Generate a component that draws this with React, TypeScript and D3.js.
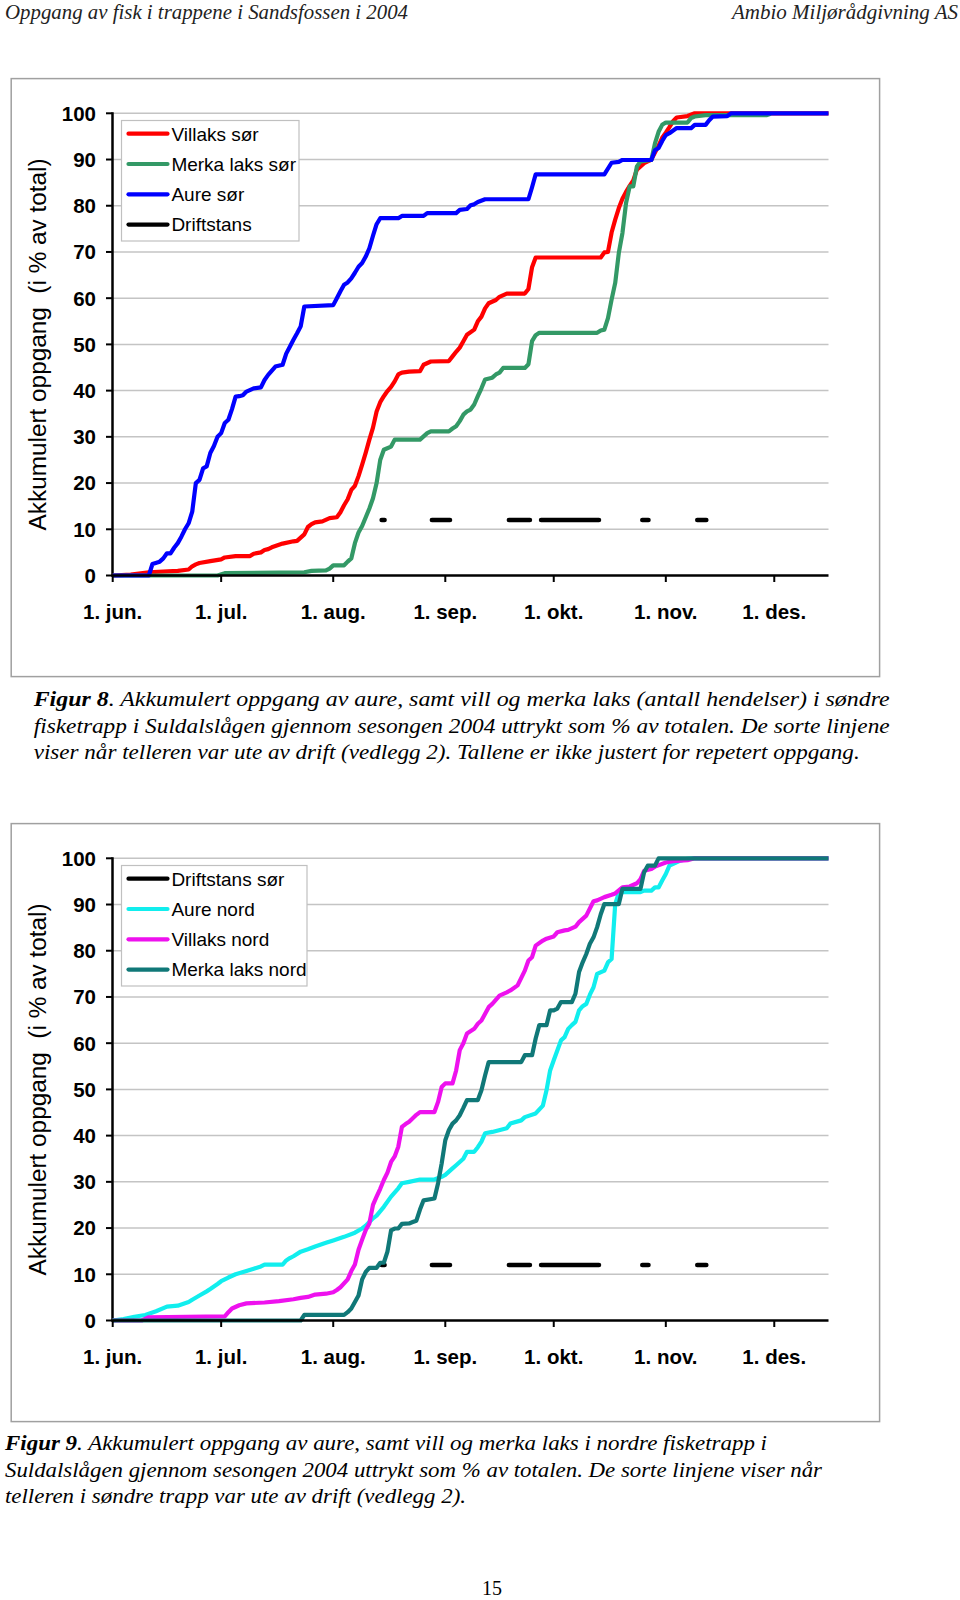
import React from 'react';
import * as d3 from 'd3';

// ---------- data (day index from 1. jun. 2004, cumulative % of total) ----------
type Pt = [number, number];

const START = Date.UTC(2004, 5, 1);
const END_DAY = 198;
const xTickLabels = ['1. jun.', '1. jul.', '1. aug.', '1. sep.', '1. okt.', '1. nov.', '1. des.'];
const yTicks = [0, 10, 20, 30, 40, 50, 60, 70, 80, 90, 100];

const villaksSor: Pt[] = [
  [0, 0], [5, 0.2], [10, 0.7], [18, 1], [21, 1.3], [22, 2], [23, 2.4], [24, 2.7], [27, 3.1], [30, 3.5],
  [31, 3.9], [34, 4.2], [38, 4.2], [39, 4.7], [41, 5], [42, 5.5], [43, 5.7], [44, 6.1], [47, 6.9], [50, 7.4],
  [51, 7.5], [52, 8.2], [53, 8.9], [54, 10.5], [55, 11.1], [56, 11.5], [58, 11.7], [60, 12.4], [62, 12.6],
  [63, 13.7], [64, 15.2], [65, 16.5], [66, 18.5], [67, 19.4], [68, 21.5], [69, 24], [70, 26.6], [71, 29.4],
  [72, 32], [73, 35.5], [74, 37.5], [75, 38.8], [76, 39.9], [77, 40.8], [78, 42], [79, 43.5], [80, 43.9],
  [82, 44.1], [85, 44.2], [86, 45.6], [88, 46.3], [93, 46.4], [94, 47.4], [95, 48.4], [96, 49.3], [97, 50.7],
  [98, 52.1], [100, 53.2], [101, 55], [102, 56], [103, 57.8], [104, 58.9], [106, 59.6], [107, 60.3], [109, 61],
  [114, 61], [115, 62], [116, 66.7], [117, 68.8], [135, 68.8], [136, 69.9], [137, 70], [138, 74.2], [139, 77],
  [140, 79.5], [141, 81.5], [142, 83], [143, 84.3], [144, 85.5], [145, 87.8], [146, 88.5], [147, 89.2],
  [148, 89.6], [149, 90], [150, 91.5], [151, 93], [152, 94.7], [153, 95.8], [154, 97], [155, 98.3], [156, 99.1],
  [159, 99.4], [161, 100], [198, 100],
];

const merkaLaksSor: Pt[] = [
  [0, 0], [29, 0], [31, 0.5], [53, 0.7], [55, 1], [59, 1.1], [60, 1.5], [61, 2.2], [64, 2.2], [65, 3],
  [66, 3.7], [67, 7], [68, 9.3], [69, 10.7], [70, 12.6], [71, 14.5], [72, 16.7], [73, 20], [74, 25], [75, 27.2],
  [77, 27.9], [78, 29.4], [85, 29.4], [86, 30.1], [87, 30.8], [88, 31.2], [93, 31.2], [94, 31.8], [95, 32.3],
  [96, 33.4], [97, 34.8], [98, 35.5], [99, 35.9], [100, 37], [101, 38.8], [102, 40.5], [103, 42.4], [105, 42.8],
  [106, 43.5], [107, 43.9], [108, 44.9], [114, 44.9], [115, 45.7], [116, 50.7], [117, 52], [118, 52.5],
  [134, 52.5], [135, 53], [136, 53.2], [137, 55.7], [138, 59.7], [139, 63.3], [140, 69.8], [141, 74.1],
  [142, 80.6], [143, 84.2], [144, 84.2], [145, 88.5], [146, 89.6], [149, 89.9], [150, 93.5], [151, 96],
  [152, 97.5], [153, 98], [159, 98], [160, 99], [161, 99.3], [164, 99.6], [181, 99.6], [182, 99.9],
];

const aureSor: Pt[] = [
  [0, 0], [10, 0], [11, 2.5], [13, 3], [14, 3.7], [15, 4.8], [16, 4.8], [17, 6], [18, 7], [19, 8.4], [20, 10],
  [21, 11.3], [22, 13.8], [23, 20], [24, 20.7], [25, 23.2], [26, 23.6], [27, 26.5], [28, 28], [29, 30],
  [30, 30.8], [31, 33], [32, 33.7], [33, 36], [34, 38.7], [35, 38.8], [36, 39], [37, 39.8], [39, 40.5],
  [41, 40.7], [42, 42.3], [43, 43.4], [45, 45.2], [47, 45.6], [48, 48], [49, 49.5], [50, 51], [51, 52.4],
  [52, 53.9], [53, 58.2], [61, 58.5], [62, 60], [63, 61.5], [64, 62.9], [65, 63.4], [66, 64.3], [67, 65.5],
  [68, 66.8], [69, 67.6], [70, 69], [71, 70.8], [72, 73.5], [73, 76], [74, 77.3], [79, 77.3], [80, 77.8],
  [86, 77.8], [87, 78.4], [95, 78.4], [96, 79.1], [98, 79.3], [99, 80.1], [100, 80.3], [101, 80.8], [103, 81.4],
  [115, 81.4], [116, 84], [117, 86.8], [136, 86.8], [138, 89.3], [140, 89.5], [141, 89.9], [149, 89.9],
  [150, 92], [151, 92.5], [152, 94], [153, 95.3], [154, 95.7], [156, 96.8], [160, 96.8], [161, 97.5],
  [164, 97.5], [165, 98.5], [166, 99.3], [170, 99.4], [171, 100], [198, 100],
];

const aureNord: Pt[] = [
  [0, 0], [3, 0.3], [6, 0.8], [9, 1.2], [12, 2], [15, 3], [18, 3.2], [21, 4], [22, 4.5], [24, 5.4], [26, 6.3],
  [27, 6.8], [29, 7.9], [30, 8.5], [32, 9.3], [34, 10], [37, 10.7], [39, 11.2], [41, 11.7], [42, 12.1],
  [47, 12.1], [48, 13], [49, 13.5], [50, 13.9], [52, 14.9], [54, 15.4], [56, 16], [59, 16.8], [61, 17.3],
  [64, 18.1], [67, 19], [69, 19.9], [70, 20.5], [71, 21.3], [72, 22.1], [73, 22.7], [75, 24.6], [77, 26.8],
  [79, 28.6], [80, 29.7], [82, 30], [85, 30.5], [89, 30.5], [91, 31.1], [92, 31.5], [93, 32.2], [94, 32.9],
  [95, 33.6], [96, 34.3], [97, 35], [98, 36.5], [100, 36.5], [101, 37.5], [102, 38.7], [103, 40.5], [105, 40.8],
  [109, 41.6], [110, 42.6], [113, 43.3], [114, 44], [117, 44.8], [119, 46.5], [120, 49.8], [121, 54.1],
  [122, 56.3], [124, 60.6], [125, 61.3], [126, 63.1], [127, 63.9], [128, 64.6], [129, 67.1], [130, 68],
  [131, 68.5], [132, 70.5], [133, 72.1], [134, 75], [136, 75.7], [137, 77.5], [138, 78.2], [139, 90.1],
  [140, 92.5], [141, 92.7], [146, 92.7], [147, 93], [149, 93], [150, 93.7], [151, 93.7], [152, 95.2],
  [153, 96.6], [154, 98.4], [157, 99.5], [159, 99.9], [161, 100], [198, 100],
];

const villaksNord: Pt[] = [
  [0, 0], [8, 0], [10, 0.7], [31, 0.9], [32, 1.8], [33, 2.6], [35, 3.3], [37, 3.7], [42, 3.9], [46, 4.2],
  [50, 4.6], [52, 4.9], [54, 5.1], [56, 5.6], [59, 5.8], [61, 6.1], [62, 6.6], [63, 7.2], [65, 8.9], [66, 10.7],
  [67, 12.1], [68, 15.3], [69, 17.5], [70, 19.6], [71, 21], [72, 25], [73, 26.8], [74, 28.5], [75, 30.4],
  [76, 32], [77, 34.3], [78, 35.5], [79, 37.6], [80, 41.9], [81, 42.5], [82, 43], [84, 44.5], [85, 45.1],
  [89, 45.1], [90, 47.3], [91, 50.5], [92, 51.3], [94, 51.3], [95, 54.1], [96, 58.5], [97, 60], [98, 62.1],
  [100, 63.1], [101, 64.2], [102, 64.9], [104, 67.8], [105, 68.5], [107, 70.3], [109, 71], [110, 71.4],
  [112, 72.5], [114, 75.7], [115, 77.9], [116, 78.6], [117, 81.1], [119, 82.2], [120, 82.6], [122, 83.1],
  [123, 84], [125, 84.4], [126, 84.5], [128, 85.2], [129, 86.2], [131, 87.6], [133, 90.7], [134, 90.9],
  [136, 91.6], [138, 92.1], [139, 92.4], [141, 93.7], [143, 93.9], [145, 94.6], [146, 95.5], [147, 97.3],
  [149, 97.7], [150, 98.2], [153, 99.1], [155, 99.4], [159, 99.6], [161, 100], [198, 100],
];

const merkaLaksNord: Pt[] = [
  [0, 0], [52, 0], [53, 1.2], [64, 1.2], [65, 1.8], [66, 2.6], [67, 4], [68, 5.4], [69, 8.9], [70, 10.5],
  [71, 11.4], [73, 11.4], [74, 12.5], [75, 12.5], [76, 14.9], [77, 19.5], [78, 19.9], [79, 19.9], [80, 20.9],
  [82, 21], [83, 21.3], [84, 21.6], [85, 24], [86, 26], [89, 26.4], [90, 29.7], [91, 34], [92, 39], [93, 41.2],
  [94, 42.6], [95, 43.3], [96, 44.4], [97, 46], [98, 47.7], [101, 47.7], [102, 49.8], [103, 53], [104, 55.9],
  [113, 55.9], [114, 57.4], [116, 57.4], [117, 61], [118, 63.9], [120, 63.9], [121, 67.1], [122, 67.1],
  [123, 67.5], [124, 68.9], [127, 68.9], [128, 70.7], [129, 75.4], [130, 77.5], [131, 79.3], [132, 81.5],
  [133, 82.9], [134, 85.1], [135, 87.9], [136, 90.1], [140, 90.1], [141, 93.4], [146, 93.4], [147, 97],
  [148, 98.4], [150, 98.4], [151, 100], [198, 100],
];

// periods when the counter in the southern ladder was out of order (start day, end day)
const driftstans: [number, number][] = [
  [74.4, 75.2], [88.3, 93.3], [109.6, 115.4], [118.5, 134.5], [146.5, 148.2], [161.7, 164.2],
];
const DRIFT_LEVEL = 12;

// ---------- helpers ----------
const toDate = (d: number) => new Date(START + d * 864e5);

const x = d3.scaleUtc().domain([toDate(0), toDate(END_DAY)]).range([112.7, 828.5]);
const monthTicks = d3.utcMonth.range(toDate(0), toDate(END_DAY));

const PLOT_TOP = 113.3;
const PLOT_BOTTOM = 575.5;
const AXIS_X = 112.5;
const y = d3.scaleLinear().domain([0, 100]).range([PLOT_BOTTOM, PLOT_TOP]);

const line = d3
  .line<Pt>()
  .x((p) => x(toDate(p[0])))
  .y((p) => y(p[1]))
  .curve(d3.curveLinear);

type Series = { name: string; color: string; data: Pt[] | null };

const SANS = 'Liberation Sans, Arial, sans-serif';
const SERIF = 'Liberation Serif, Times New Roman, serif';

function Chart({ offsetY, series, legendWidth }: { offsetY: number; series: Series[]; legendWidth: number }) {
  const ext = x.range();
  return (
    <g transform={`translate(0,${offsetY})`}>
      <rect x={11.2} y={78.6} width={868.4} height={598} fill="#fff" stroke="#a0a0a0" strokeWidth={1.5} />
      {/* grid */}
      {yTicks.filter((t) => t > 0).map((t) => (
        <line key={t} x1={AXIS_X} x2={ext[1]} y1={y(t)} y2={y(t)} stroke="#c4c4c4" strokeWidth={1.5} />
      ))}
      {/* y axis */}
      <line x1={AXIS_X} x2={AXIS_X} y1={PLOT_TOP - 1} y2={PLOT_BOTTOM + 1} stroke="#000" strokeWidth={2.5} />
      {yTicks.map((t) => (
        <g key={t}>
          <line x1={AXIS_X - 6.5} x2={AXIS_X} y1={y(t)} y2={y(t)} stroke="#000" strokeWidth={2} />
          <text x={96} y={y(t)} dy="0.36em" textAnchor="end" fontFamily={SANS} fontWeight="bold" fontSize={20.5} fill="#000">
            {t}
          </text>
        </g>
      ))}
      <text
        transform={`translate(46,${(PLOT_TOP + PLOT_BOTTOM) / 2}) rotate(-90)`}
        textAnchor="middle"
        fontFamily={SANS}
        fontSize={23.5}
        fill="#000"
        textLength={372}
        lengthAdjust="spacingAndGlyphs"
        style={{ whiteSpace: 'pre' }}
      >
        {'Akkumulert oppgang  (i % av total)'}
      </text>
      {/* series */}
      {series.map((s) =>
        s.data ? (
          <path key={s.name} d={line(s.data) || ''} fill="none" stroke={s.color} strokeWidth={4.2} strokeLinejoin="round" strokeLinecap="butt" />
        ) : (
          <g key={s.name}>
            {driftstans.map(([a, b], i) => (
              <line key={i} x1={x(toDate(a))} x2={x(toDate(b))} y1={y(DRIFT_LEVEL)} y2={y(DRIFT_LEVEL)} stroke="#000" strokeWidth={4.6} strokeLinecap="round" />
            ))}
          </g>
        )
      )}
      {/* x axis */}
      <line x1={AXIS_X - 1} x2={ext[1]} y1={PLOT_BOTTOM} y2={PLOT_BOTTOM} stroke="#000" strokeWidth={2.5} />
      {monthTicks.map((d, i) => (
        <g key={i}>
          <line x1={x(d)} x2={x(d)} y1={PLOT_BOTTOM} y2={PLOT_BOTTOM + 6.5} stroke="#000" strokeWidth={2} />
          <text x={x(d)} y={PLOT_BOTTOM + 43} textAnchor="middle" fontFamily={SANS} fontWeight="bold" fontSize={20.5} fill="#000">
            {xTickLabels[i]}
          </text>
        </g>
      ))}
      {/* legend */}
      <rect x={121.5} y={120.5} width={legendWidth} height={120.5} fill="#fff" stroke="#c0c0c0" strokeWidth={1.2} />
      {series.map((s, i) => {
        const ly = 133.7 + i * 30.3;
        return (
          <g key={s.name}>
            <line x1={128.5} x2={167.5} y1={ly} y2={ly} stroke={s.color} strokeWidth={4.2} strokeLinecap="round" />
            <text x={171.4} y={ly} dy="0.36em" fontFamily={SANS} fontSize={19} fill="#000">
              {s.name}
            </text>
          </g>
        );
      })}
    </g>
  );
}

const sorSeries: Series[] = [
  { name: 'Villaks sør', color: '#ff0000', data: villaksSor },
  { name: 'Merka laks sør', color: '#339966', data: merkaLaksSor },
  { name: 'Aure sør', color: '#0000ff', data: aureSor },
  { name: 'Driftstans', color: '#000000', data: null },
];

const nordSeries: Series[] = [
  { name: 'Driftstans sør', color: '#000000', data: null },
  { name: 'Aure nord', color: '#11eeee', data: aureNord },
  { name: 'Villaks nord', color: '#ee11ee', data: villaksNord },
  { name: 'Merka laks nord', color: '#107878', data: merkaLaksNord },
];

export default function App() {
  return (
    <svg
      width={960}
      height={1600}
      viewBox="0 0 960 1600"
      style={{ position: 'absolute', left: 0, top: 0, background: '#fff' }}
    >
      <rect width={960} height={1600} fill="#fff" />
      {/* page header */}
      <text x={5} y={18.5} fontFamily={SERIF} fontStyle="italic" fontSize={20} fill="#222" textLength={403} lengthAdjust="spacingAndGlyphs">
        Oppgang av fisk i trappene i Sandsfossen i 2004
      </text>
      <text x={958} y={18.5} textAnchor="end" fontFamily={SERIF} fontStyle="italic" fontSize={20} fill="#222" textLength={226} lengthAdjust="spacingAndGlyphs">
        Ambio Miljørådgivning AS
      </text>

      <Chart offsetY={0} series={sorSeries} legendWidth={177.5} />

      {/* caption figure 8 */}
      <g fontFamily={SERIF} fontStyle="italic" fontSize={22} fill="#000">
        <text x={33.7} y={706} textLength={856} lengthAdjust="spacingAndGlyphs">
          <tspan fontWeight="bold">Figur 8</tspan>. Akkumulert oppgang av aure, samt vill og merka laks (antall hendelser) i søndre
        </text>
        <text x={33.7} y={732.5} textLength={856} lengthAdjust="spacingAndGlyphs">
          fisketrapp i Suldalslågen gjennom sesongen 2004 uttrykt som % av totalen. De sorte linjene
        </text>
        <text x={33.7} y={759} textLength={826} lengthAdjust="spacingAndGlyphs">
          viser når telleren var ute av drift (vedlegg 2). Tallene er ikke justert for repetert oppgang.
        </text>
      </g>

      <Chart offsetY={745} series={nordSeries} legendWidth={185.5} />

      {/* caption figure 9 */}
      <g fontFamily={SERIF} fontStyle="italic" fontSize={22} fill="#000">
        <text x={5} y={1450} textLength={762} lengthAdjust="spacingAndGlyphs">
          <tspan fontWeight="bold">Figur 9</tspan>. Akkumulert oppgang av aure, samt vill og merka laks i nordre fisketrapp i
        </text>
        <text x={5} y={1476.5} textLength={817} lengthAdjust="spacingAndGlyphs">
          Suldalslågen gjennom sesongen 2004 uttrykt som % av totalen. De sorte linjene viser når
        </text>
        <text x={5} y={1503} textLength={461} lengthAdjust="spacingAndGlyphs">
          telleren i søndre trapp var ute av drift (vedlegg 2).
        </text>
      </g>

      <text x={492} y={1595} textAnchor="middle" fontFamily={SERIF} fontSize={20} fill="#000">
        15
      </text>
    </svg>
  );
}
